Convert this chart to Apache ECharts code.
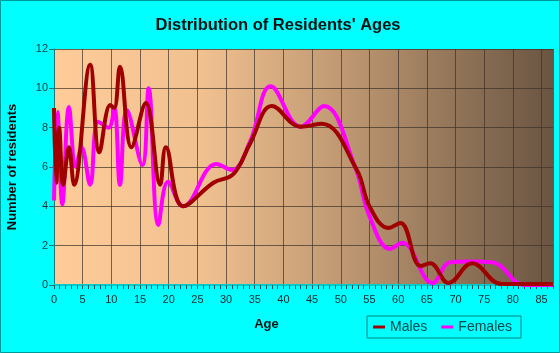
<!DOCTYPE html>
<html>
<head>
<meta charset="utf-8">
<script src="https://cdn.jsdelivr.net/npm/echarts@6/dist/echarts.min.js"></script>
<style>
  html, body { margin: 0; padding: 0; background: #00ffff; }
  #chart { width: 560px; height: 353px; }
</style>
</head>
<body>
<div id="chart"></div>
<script>
// values (age, residents)
var maleAges = [0, 0.4, 0.9, 1.6, 2.6, 3.5, 6.3, 7.9, 9.8, 10.5, 11.5, 13.5, 16, 18.5, 19.5, 22.5, 27.8, 31.3, 34.2, 38, 43, 46.7, 52.8, 55, 58.3, 60.4, 63.9, 65.6, 68.8, 72.9, 78.1, 87]
var maleValues = [9, 5.2, 8, 5.1, 7, 5.1, 11.2, 6.75, 9.15, 9.0, 11.1, 7.0, 9.25, 5.1, 7.0, 4.0, 5.2, 5.65, 7.2, 9.1, 8.05, 8.2, 5.85, 4.0, 2.9, 3.15, 0.97, 1.1, 0.1, 1.1, 0.05, 0.05]

var femaleAges = [0, 0.6, 1.45, 2.6, 3.8, 4.8, 6.3, 7.7, 9.5, 10.5, 11.5, 12.7, 15.4, 16.5, 18.2, 19.9, 22.5, 28.3, 31, 34.2, 37.8, 43, 47.1, 52.5, 55, 58.6, 60.7, 66, 69, 72.5, 76.5, 82, 87]
var femaleValues = [4.3, 8.8, 4.1, 9.05, 6.0, 7.0, 5.1, 8.3, 8.0, 9.0, 5.1, 8.9, 6.1, 10.0, 3.05, 5.25, 4.0, 6.15, 5.85, 7.3, 10.1, 8.05, 9.1, 6.0, 3.5, 1.83, 2.15, 0.1, 1.15, 1.2, 1.15, 0, 0]

var seriesNames = ['Males', 'Females']

function pairs(xs, ys) {
  return xs.map(function (x, i) { return [x, ys[i]] })
}

var font = '"Liberation Sans", Arial, sans-serif'
var chart = echarts.init(document.getElementById('chart'))

chart.setOption({
  backgroundColor: '#00ffff',
  animation: false,
  title: {
    text: "Distribution of Residents' Ages",
    left: 273,
    textAlign: 'center',
    top: 12,
    textStyle: { fontFamily: font, fontSize: 16.5, fontWeight: 'bold', color: '#111' }
  },
  graphic: [{
    type: 'rect',
    shape: { x: 0.5, y: 0.5, width: 559, height: 352 },
    style: { fill: 'none', stroke: '#009999', lineWidth: 1 },
    silent: true
  }],
  grid: {
    left: 54, right: 7, top: 49, bottom: 68,
    outerBoundsMode: 'none',
    show: true,
    borderWidth: 0,
    backgroundColor: new echarts.graphic.LinearGradient(0, 0, 1, 0, [
      { offset: 0, color: '#ffcc99' },
      { offset: 0.3, color: '#f0c08f' },
      { offset: 0.6, color: '#bb9570' },
      { offset: 1, color: '#6a5542' }
    ])
  },
  legend: {
    data: seriesNames,
    left: 367, top: 316,
    width: 155,
    padding: [4, 9, 4, 6],
    borderColor: '#008080', borderWidth: 1,
    icon: 'rect', itemWidth: 12, itemHeight: 3, itemGap: 14,
    textStyle: { fontFamily: font, fontSize: 14, color: '#0a4a4a' }
  },
  xAxis: {
    type: 'value', min: 0, max: 87, interval: 5,
    name: 'Age', nameLocation: 'middle', nameGap: 33,
    nameTextStyle: { fontFamily: font, fontSize: 13, fontWeight: 'bold', color: '#111', padding: [0, 74, 0, 0] },
    axisLine: { show: true, lineStyle: { color: '#00cccc', width: 2 } },
    axisTick: { show: true, length: 4, lineStyle: { color: '#225555' } },
    minorTick: { show: true, splitNumber: 5, length: 4, lineStyle: { color: '#225555' } },
    axisLabel: { showMaxLabel: false, margin: 9, fontFamily: font, fontSize: 11, color: '#1a2a2a' },
    splitLine: { show: true, lineStyle: { color: 'rgba(60,50,40,0.7)', width: 1 } }
  },
  yAxis: {
    type: 'value', min: 0, max: 12, interval: 2,
    name: 'Number of residents', nameLocation: 'middle', nameGap: 35,
    nameTextStyle: { fontFamily: font, fontSize: 13, fontWeight: 'bold', color: '#111' },
    axisLine: { show: true, lineStyle: { color: '#227777', width: 1 } },
    axisTick: { show: true, length: 5, lineStyle: { color: '#227777' } },
    axisLabel: { margin: 6, fontFamily: font, fontSize: 11, color: '#1a3a3a' },
    splitLine: { show: true, lineStyle: { color: 'rgba(60,50,40,0.7)', width: 1 } }
  },
  series: [{
    name: 'Males', type: 'line', z: 3,
    data: pairs(maleAges, maleValues),
    smooth: 0.4, showSymbol: false,
    lineStyle: { color: '#a00000', width: 4 },
    itemStyle: { color: '#a00000' }
  }, {
    name: 'Females', type: 'line', z: 2,
    data: pairs(femaleAges, femaleValues),
    smooth: 0.4, showSymbol: false,
    lineStyle: { color: '#ff00ff', width: 4 },
    itemStyle: { color: '#ff00ff' }
  }]
})
</script>
</body>
</html>
